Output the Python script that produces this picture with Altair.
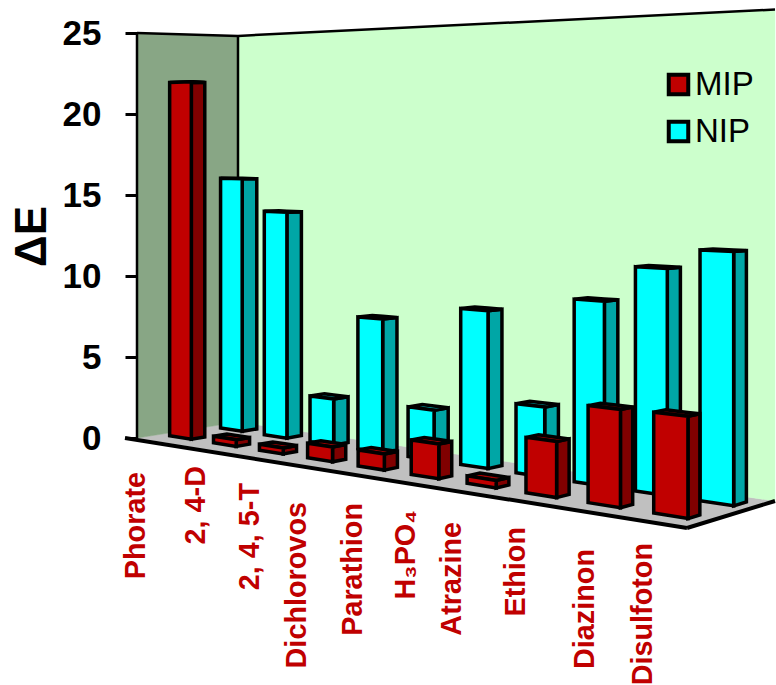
import altair as alt
import pandas as pd

# Response of each pesticide on the imprinted and non-imprinted films
categories = ["Phorate", "2, 4-D", "2, 4, 5-T", "Dichlorovos", "Parathion",
              "H₃PO₄", "Atrazine", "Ethion", "Diazinon", "Disulfoton"]
mip_values = [22.0, 0.4, 0.35, 0.85, 0.9, 1.9, 0.4, 2.9, 4.95, 5.0]
nip_values = [16.0, 14.0, 2.8, 7.9, 2.9, 8.9, 3.85, 9.9, 11.85, 12.9]
y_ticks = [0, 5, 10, 15, 20, 25]

# Perspective box: floor corners on the canvas, then height per canvas pixel
F0 = (137.0, 438.0)   # front left
F1 = (687.0, 528.0)   # front right
F2 = (775.0, 501.0)   # back right
F3 = (238.0, 422.0)   # back left
ZERO_PX = 438.0
PX_PER_UNIT = 16.2
PLOT_LEFT, PLOT_W, PLOT_H = 137, 639, 685
WALL_FRONT, WALL_BACK = 25.0, 25.3


def homography():
    dx1, dy1 = F1[0] - F2[0], F1[1] - F2[1]
    dx2, dy2 = F3[0] - F2[0], F3[1] - F2[1]
    sx = F0[0] - F1[0] + F2[0] - F3[0]
    sy = F0[1] - F1[1] + F2[1] - F3[1]
    det = dx1 * dy2 - dx2 * dy1
    g = (sx * dy2 - dx2 * sy) / det
    h = (dx1 * sy - sx * dy1) / det
    return (F1[0] - F0[0] + g * F1[0], F3[0] - F0[0] + h * F3[0],
            F1[1] - F0[1] + g * F1[1], F3[1] - F0[1] + h * F3[1], g, h)


A, B, D, E, G, H = homography()


def project(u, v, value=0.0):
    """Box coordinates to (canvas x, y-axis units)."""
    w = 1 + G * u + H * v
    x = (A * u + B * v + F0[0]) / w
    y = (D * u + E * v + F0[1]) / w
    return x, (ZERO_PX - y) / PX_PER_UNIT + value / w


def polygon_rows(name, pts, **extra):
    """Convex polygon as an area: upper and lower outline at each x."""
    rows = []
    for x in sorted({p[0] for p in pts}):
        hits = []
        for (x0, y0), (x1, y1) in zip(pts, pts[1:] + pts[:1]):
            if min(x0, x1) <= x <= max(x0, x1):
                if x0 == x1:
                    hits += [y0, y1]
                else:
                    hits.append(y0 + (y1 - y0) * (x - x0) / (x1 - x0))
        rows.append({"face": name, "sx": x, "top": max(hits), "bottom": min(hits), **extra})
    return rows


def bar_faces(series, values, start, v0, v1):
    front, side, top = [], [], []
    for i, val in enumerate(values):
        u0, u1 = 0.1 * i + start, 0.1 * i + start + 0.05
        key = f"{series}{i}"
        front += polygon_rows(key, [project(u0, v0), project(u1, v0),
                                    project(u1, v0, val), project(u0, v0, val)], series=series)
        side += polygon_rows(key, [project(u1, v0), project(u1, v1),
                                   project(u1, v1, val), project(u1, v0, val)])
        top += polygon_rows(key, [project(u0, v0, val), project(u1, v0, val),
                                  project(u1, v1, val), project(u0, v1, val)])
    return pd.DataFrame(front), pd.DataFrame(side), pd.DataFrame(top)


x_scale = alt.Scale(domain=[PLOT_LEFT, PLOT_LEFT + PLOT_W], nice=False, zero=False)
y_scale = alt.Scale(domain=[(ZERO_PX - PLOT_H) / PX_PER_UNIT, ZERO_PX / PX_PER_UNIT],
                    nice=False, zero=False)
x_enc = alt.X("sx:Q", scale=x_scale, axis=None)
y_enc = alt.Y("top:Q", scale=y_scale, title="ΔE",
              axis=alt.Axis(values=y_ticks, domain=False, grid=False, tickColor="black",
                            tickSize=12, tickWidth=3, labelFont="Liberation Sans",
                            labelFontWeight="bold", labelFontSize=35, labelColor="black",
                            labelPadding=24, titleFont="Liberation Sans", titleFontWeight="bold",
                            titleFontSize=44, titleColor="black", titleX=-92, titleY=236,
                            titleBaseline="alphabetic"))


def faces(df, fill, stroke="black", width=3.5):
    return alt.Chart(df).mark_area(fill=fill, stroke=stroke, strokeWidth=width, opacity=1).encode(
        x=x_enc, y=y_enc, y2="bottom:Q", detail="face:N")


def front_faces(df):
    return alt.Chart(df).mark_area(stroke="black", strokeWidth=3.5, opacity=1).encode(
        x=x_enc, y=y_enc, y2="bottom:Q", detail="face:N",
        color=alt.Color("series:N",
                        scale=alt.Scale(domain=["MIP", "NIP"], range=["#C00000", "#00FFFF"]),
                        legend=alt.Legend(title=None, orient="none", legendX=525, legendY=68,
                                          symbolType="square", symbolSize=380,
                                          symbolStrokeColor="black", symbolStrokeWidth=4,
                                          labelFont="Liberation Sans", labelFontSize=33,
                                          labelColor="black", labelOffset=0, rowPadding=10,
                                          labelLimit=200)))


floor = pd.DataFrame(polygon_rows("floor", [project(0, 0), project(1, 0), project(1, 1), project(0, 1)]))
left_wall = pd.DataFrame(polygon_rows("left", [project(0, 0), project(0, 1),
                                               project(0, 1, WALL_BACK), project(0, 0, WALL_FRONT)]))
back_wall = pd.DataFrame(polygon_rows("back", [project(0, 1), project(1, 1),
                                               project(1, 1, WALL_BACK), project(0, 1, WALL_BACK)]))


def edge(name, a, b):
    return [{"edge": name, "sx": a[0], "top": a[1]}, {"edge": name, "sx": b[0], "top": b[1]}]


thin_edges = pd.DataFrame(
    edge("wall-left", project(0, 0), project(0, 0, WALL_FRONT))
    + edge("wall-corner", project(0, 1), project(0, 1, WALL_BACK))
    + edge("wall-top-left", project(0, 0, WALL_FRONT), project(0, 1, WALL_BACK))
    + edge("wall-top-back", project(0, 1, WALL_BACK), project(1, 1, WALL_BACK))
)
floor_edges = pd.DataFrame(
    edge("floor-front", (125.0, project(0, 0)[1]), project(1, 0))
    + edge("floor-right", project(1, 0), project(1, 1))
)

nip_front, nip_side, nip_top = bar_faces("NIP", nip_values, 0.025, 0.71, 0.86)
mip_front, mip_side, mip_top = bar_faces("MIP", mip_values, 0.022, 0.22, 0.35)

# Category captions are free-standing text boxes under the floor
caption_anchor = [(136, 472), (196, 466), (250, 483), (297, 502), (353, 503),
                  (406, 510), (452, 522), (516, 527), (585, 549), (643, 543)]
captions = pd.DataFrame({
    "name": categories,
    "sx": [a[0] for a in caption_anchor],
    "top": [(ZERO_PX - a[1]) / PX_PER_UNIT for a in caption_anchor],
})
caption_layer = alt.Chart(captions).mark_text(
    angle=270, align="right", baseline="middle", font="Liberation Sans",
    fontWeight="bold", fontSize=28.8, color="#C00000").encode(x=x_enc, y=y_enc, text="name:N")

chart = alt.layer(
    faces(floor, "#C0C0C0", stroke="#C0C0C0", width=0.5),
    faces(left_wall, "#88A685", stroke="#88A685", width=0.5),
    faces(back_wall, "#CCFFCC", stroke="#CCFFCC", width=0.5),
    alt.Chart(thin_edges).mark_line(color="black", strokeWidth=2.5).encode(x=x_enc, y=y_enc, detail="edge:N"),
    alt.Chart(floor_edges).mark_line(color="black", strokeWidth=4).encode(x=x_enc, y=y_enc, detail="edge:N"),
    faces(nip_side, "#00A6A6"),
    faces(nip_top, "#00BFBF"),
    front_faces(nip_front),
    faces(mip_side, "#800000"),
    faces(mip_top, "#A00000"),
    front_faces(mip_front),
    caption_layer,
).properties(
    width=PLOT_W, height=PLOT_H,
    padding={"left": PLOT_LEFT, "top": 0, "right": 0, "bottom": 0},
    autosize=alt.AutoSizeParams(type="none"),
    background="white",
).configure_view(strokeWidth=0)

chart.save("out.html", embed_options={"renderer": "svg", "actions": False})
